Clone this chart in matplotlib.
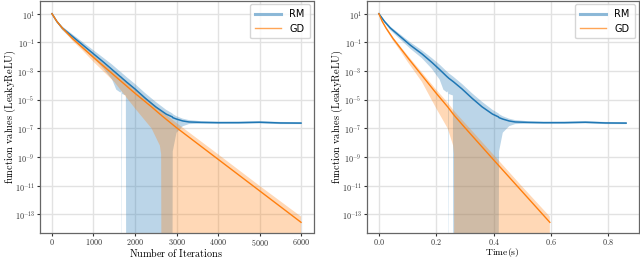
import numpy as np
import matplotlib
matplotlib.use("Agg")
import matplotlib.pyplot as plt
from matplotlib.lines import Line2D
from matplotlib.ticker import FuncFormatter, NullLocator

plt.rcParams["mathtext.fontset"] = "cm"

# RM samples: iteration, time, log10 of mean / upper / lower band
rm_iters = [0, 120, 250, 500, 750, 1000, 1250, 1450, 1550, 1650, 1675, 1680, 1690, 1780, 1790,
            2000, 2250, 2500, 2750, 2900, 2910, 3000, 3150, 3300, 3600, 4000, 4500, 5000,
            5500, 6000]
rm_times = [0.0, 0.02, 0.04, 0.075, 0.11, 0.15, 0.185, 0.212, 0.225, 0.238, 0.241, 0.242,
            0.2435, 0.258, 0.26, 0.29, 0.325, 0.36, 0.396, 0.417, 0.419, 0.432, 0.454, 0.475,
            0.52, 0.575, 0.647, 0.72, 0.79, 0.862]
rm_mean = [1.0, 0.45, 0.0, -0.6, -1.2, -1.8, -2.4, -2.9, -3.15, -3.4, -3.45, -3.47, -3.5,
           -3.72, -3.75, -4.25, -4.9, -5.5, -6.0, -6.2, -6.25, -6.35, -6.48, -6.55, -6.58,
           -6.6, -6.6, -6.57, -6.62, -6.63]
rm_upper = [1.05, 0.52, 0.1, -0.45, -1.0, -1.55, -2.1, -2.55, -2.8, -3.05, -3.1, -3.12, -3.15,
            -3.37, -3.4, -3.9, -4.55, -5.15, -5.7, -5.95, -6.0, -6.15, -6.32, -6.42, -6.5,
            -6.53, -6.52, -6.49, -6.55, -6.56]
rm_lower = [0.95, 0.38, -0.15, -0.8, -1.45, -2.1, -2.85, -3.6, -4.3, -4.5, -4.4, -20, -4.6,
            -4.7, -20, -20, -20, -20, -20, -20, -8.6, -7.3, -6.85, -6.7, -6.67, -6.68, -6.67,
            -6.65, -6.7, -6.7]

# GD samples
gd_iters = [0, 120, 250, 500, 750, 1000, 1500, 2000, 2400, 2600, 2630, 2640, 3000, 4000,
            5000, 6000]
gd_times = [0.0, 0.012, 0.025, 0.05, 0.075, 0.1, 0.15, 0.2, 0.24, 0.259, 0.262, 0.263, 0.3,
            0.398, 0.497, 0.596]
gd_mean = [1.0, 0.45, 0.0, -0.75, -1.4, -2.05, -3.3, -4.55, -5.5, -6.0, -6.07, -6.1, -6.95,
           -9.15, -11.35, -13.55]
gd_upper = [1.03, 0.5, 0.08, -0.65, -1.28, -1.9, -3.1, -4.3, -5.2, -5.7, -5.77, -5.8, -6.62,
            -8.8, -11.0, -13.15]
gd_lower = [0.97, 0.4, -0.1, -0.9, -1.6, -2.35, -3.75, -5.6, -7.0, -8.2, -8.8, -20, -20, -20,
            -20, -20]

W, H = 640, 260
fig = plt.figure(figsize=(6.4, 2.6), dpi=100)

def drawPanel(px0, px1, xRm, xGd, xlabel, xfmt, xticks, labelDrop, labelSize):
    axW, axH = px1 - px0, 232.8 - 0.5
    ax = fig.add_axes([px0 / W, (H - 232.8) / H, axW / W, axH / H])
    ax.fill_between(xRm, 10.0 ** np.array(rm_lower), 10.0 ** np.array(rm_upper),
                    color="C0", alpha=0.3, lw=0)
    ax.fill_between(xGd, 10.0 ** np.array(gd_lower), 10.0 ** np.array(gd_upper),
                    color="C1", alpha=0.3, lw=0)
    ax.plot(xRm, 10.0 ** np.array(rm_mean), color="C0", lw=1.1)
    ax.plot(xGd, 10.0 ** np.array(gd_mean), color="C1", lw=1.0)
    ax.set_yscale("log")
    ax.set_ylim(10 ** -14.28, 10 ** 1.92)
    ax.set_yticks(10.0 ** np.arange(-13, 2, 2))
    ax.yaxis.set_minor_locator(NullLocator())
    ax.yaxis.set_major_formatter(
        FuncFormatter(lambda v, p: "$10^{%d}$" % int(round(np.log10(v)))))
    ax.set_xticks(xticks)
    ax.xaxis.set_major_formatter(FuncFormatter(xfmt))
    ax.grid(True, color="#e2e2e2", lw=1.0)
    ax.set_axisbelow(True)
    for s in ax.spines.values():
        s.set_color("#666666")
        s.set_linewidth(0.9)
    ax.tick_params(labelsize=5.8, colors="#333333", length=2.2, width=0.8, pad=1.2)
    ax.tick_params(axis="x", pad=1.0)
    ax.set_xlabel(xlabel, fontsize=labelSize)
    ax.set_ylabel(r"$\mathrm{function\ values\ (LeakyReLU)}$", fontsize=7.5)
    ax.xaxis.set_label_coords(0.5, -labelDrop / axH)
    ax.yaxis.set_label_coords(-21.5 / axW, 0.5)
    handles = [Line2D([], [], color="C0", alpha=0.5, lw=2.2),
               Line2D([], [], color="C1", alpha=0.7, lw=1.0)]
    ax.legend(handles, ["RM", "GD"], loc="upper right", fontsize=7, handlelength=2.6,
              borderpad=0.5, labelspacing=0.45, handletextpad=0.9, borderaxespad=0.4)
    return ax

drawPanel(39.5, 313.5, rm_iters, gd_iters, r"$\mathrm{Number\ of\ Iterations}$",
          lambda v, p: "$%d$" % v, [0, 1000, 2000, 3000, 4000, 5000, 6000], 13.2, 7.3)
drawPanel(366.5, 638.5, rm_times, gd_times, r"$\mathrm{Time(s)}$",
          lambda v, p: "$%.1f$" % v, [0.0, 0.2, 0.4, 0.6, 0.8], 12.9, 7.0)

fig.savefig("out.png", dpi=100)
